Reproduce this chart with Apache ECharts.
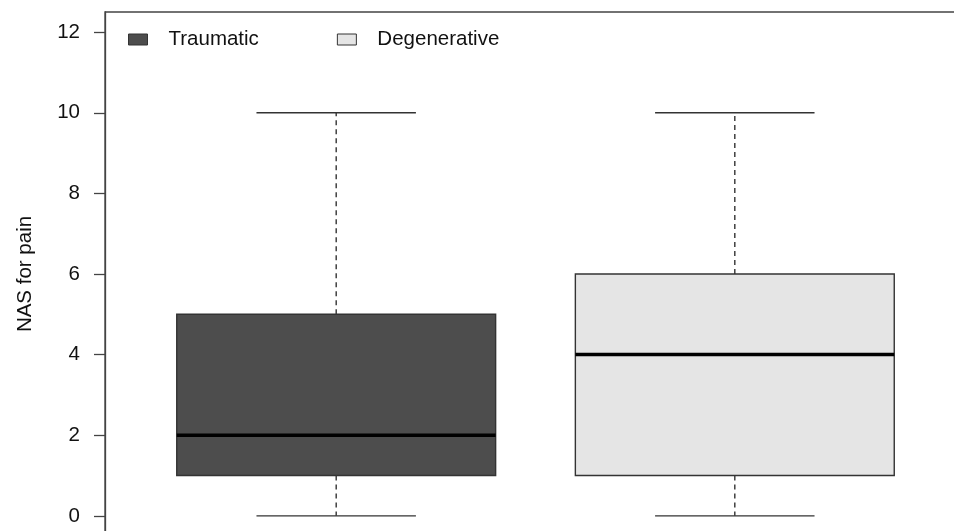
<!DOCTYPE html>
<html>
<head>
<meta charset="utf-8">
<script src="https://cdn.jsdelivr.net/npm/echarts@6/dist/echarts.min.js"></script>
<style>
  html, body { margin: 0; padding: 0; background: #fff; }
  #chart { width: 954px; height: 531px; }
</style>
</head>
<body>
<div id="chart"></div>
<script>
// box statistics
var groups = ['Traumatic', 'Degenerative'];
var positions = [1, 2];
var lowWhisker = [0, 0];
var lowerQuartile = [1, 1];
var medians = [2, 4];
var upperQuartile = [5, 6];
var highWhisker = [10, 10];
var yTicks = [0, 2, 4, 6, 8, 10, 12];

var fills = ['#4d4d4d', '#e5e5e5'];
var lineColor = '#333';

function renderBox(params, api) {
  var x = api.value(0);
  var lo = api.coord([x, api.value(1)]);
  var q1 = api.coord([x, api.value(2)]);
  var med = api.coord([x, api.value(3)]);
  var q3 = api.coord([x, api.value(4)]);
  var hi = api.coord([x, api.value(5)]);
  var half = api.size([0.8, 0])[0] / 2;
  var cap = api.size([0.4, 0])[0] / 2;
  var cx = lo[0];
  var solid = { stroke: lineColor, lineWidth: 1.4 };
  var dashed = { stroke: lineColor, lineWidth: 1.4, lineDash: [5, 4] };
  return {
    type: 'group',
    children: [
      { type: 'line', shape: { x1: cx, y1: q3[1], x2: cx, y2: hi[1] }, style: dashed },
      { type: 'line', shape: { x1: cx, y1: q1[1], x2: cx, y2: lo[1] }, style: dashed },
      { type: 'line', shape: { x1: cx - cap, y1: hi[1], x2: cx + cap, y2: hi[1] }, style: solid },
      { type: 'line', shape: { x1: cx - cap, y1: lo[1], x2: cx + cap, y2: lo[1] }, style: solid },
      {
        type: 'rect',
        shape: { x: cx - half, y: q3[1], width: half * 2, height: q1[1] - q3[1] },
        style: { fill: api.visual('color'), stroke: lineColor, lineWidth: 1.4 }
      },
      { type: 'line', shape: { x1: cx - half, y1: med[1], x2: cx + half, y2: med[1] }, style: { stroke: '#000', lineWidth: 3.5 } }
    ]
  };
}

var chart = echarts.init(document.getElementById('chart'), null, { renderer: 'canvas' });

var series = groups.map(function (g, i) {
  return {
    name: g,
    type: 'custom',
    renderItem: renderBox,
    itemStyle: { color: fills[i] },
    encode: { x: 0, y: [1, 2, 3, 4, 5] },
    data: [[positions[i], lowWhisker[i], lowerQuartile[i], medians[i], upperQuartile[i], highWhisker[i]]],
    clip: false,
    silent: true
  };
});

chart.setOption({
  animation: false,
  backgroundColor: '#fff',
  textStyle: { fontFamily: 'Liberation Sans, Arial, sans-serif' },
  grid: {
    left: 105,
    top: 12,
    width: 861,
    height: 524,
    outerBoundsMode: 'none',
    containLabel: false,
    show: true,
    borderColor: '#444',
    borderWidth: 1.3,
    backgroundColor: 'transparent'
  },
  legend: {
    left: 128,
    top: 29,
    padding: 0,
    itemWidth: 19,
    itemHeight: 11,
    itemGap: 78,
    icon: 'rect',
    selectedMode: false,
    itemStyle: { borderColor: lineColor, borderWidth: 1 },
    textStyle: { fontSize: 20.5, color: '#111', padding: [0, 0, 0, 16] },
    data: groups
  },
  xAxis: {
    type: 'value',
    min: 0.42,
    max: 2.58,
    show: false
  },
  yAxis: {
    type: 'value',
    min: -0.5,
    max: 12.5,
    name: 'NAS for pain',
    nameLocation: 'middle',
    nameGap: 69,
    nameTextStyle: { fontSize: 20.5, color: '#111' },
    axisLine: { show: true, lineStyle: { color: '#444', width: 1.3 } },
    axisTick: { show: true, length: 11, customValues: yTicks, lineStyle: { color: '#444', width: 1.3 } },
    axisLabel: { customValues: yTicks, fontSize: 20.5, color: '#111', margin: 25 },
    splitLine: { show: false }
  },
  series: series
});
</script>
</body>
</html>
